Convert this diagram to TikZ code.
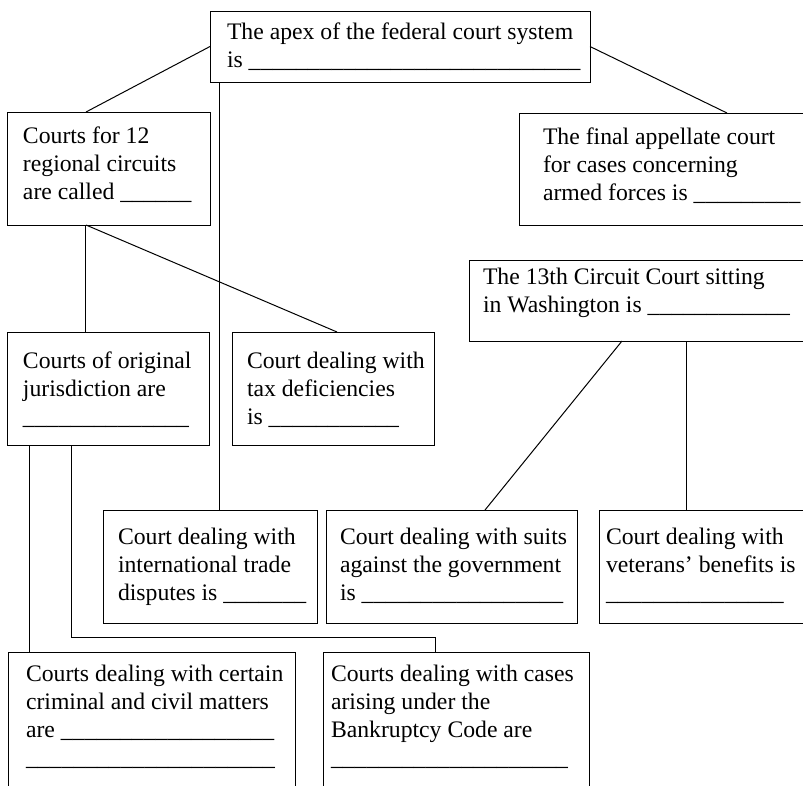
\documentclass[tikz,border=0pt]{standalone}
\usepackage{fontspec}
\setmainfont{Liberation Serif}
\usetikzlibrary{calc}

% a run of n underscores for the answer blanks
\newcount\blankn
\newcommand\blanks[1]{\blankn=#1\relax\loop\_\advance\blankn by -1 \ifnum\blankn>0 \repeat}

\tikzset{
  box/.style={draw=black, line width=1pt, inner sep=0pt, outer sep=0pt,
              anchor=north west, rectangle},
  % text blocks are placed by the baseline of their last line
  txt/.style={anchor=base west, align=left, inner sep=0pt, outer sep=0pt,
              font=\fontsize{23.7}{28}\selectfont},
  link/.style={draw=black, line width=1pt},
}

\begin{document}
\begin{tikzpicture}[x=1pt, y=-1pt]
\useasboundingbox (0,0) rectangle (803,785);
\fill[white] (0,0) rectangle (803,785);
\clip (0,0) rectangle (803,785);

% boxes
\node[box, minimum width=380pt, minimum height=71pt]  (apex)  at (210,11)  {};
\node[box, minimum width=203pt, minimum height=113pt] (circ)  at (7,112)   {};
\node[box, minimum width=320pt, minimum height=112pt] (armed) at (519,113) {};
\node[box, minimum width=202pt, minimum height=113pt] (orig)  at (7,332)   {};
\node[box, minimum width=202pt, minimum height=113pt] (tax)   at (232,332) {};
\node[box, minimum width=360pt, minimum height=81pt]  (c13)   at (469,260) {};
\node[box, minimum width=214pt, minimum height=113pt] (trade) at (103,510) {};
\node[box, minimum width=251pt, minimum height=113pt] (suits) at (326,510) {};
\node[box, minimum width=240pt, minimum height=113pt] (vet)   at (599,510) {};
\node[box, minimum width=287pt, minimum height=180pt] (crim)  at (8,652)   {};
\node[box, minimum width=266pt, minimum height=180pt] (bank)  at (323,652) {};

% texts
\node[txt] (tApex)  at (227,67)  {The apex of the federal court system\\is \blanks{28}};
\node[txt] (tCirc)  at (23,199)  {Courts for 12\\regional circuits\\are called \blanks{6}};
\node[txt] (tArmed) at (543,200) {The final appellate court\\for cases concerning\\armed forces is \blanks{9}};
\node[txt] (tOrig)  at (23,424)  {Courts of original\\jurisdiction are\\\blanks{14}};
\node[txt] (tTax)   at (247,424) {Court dealing with\\tax deficiencies\\is \blanks{11}};
\node[txt] (tC13)   at (483,312) {The 13th Circuit Court sitting\\in Washington is \blanks{12}};
\node[txt] (tTrade) at (118,600) {Court dealing with\\international trade\\disputes is \blanks{7}};
\node[txt] (tSuits) at (340,600) {Court dealing with suits\\against the government\\is \blanks{17}};
\node[txt] (tVet)   at (606,600) {Court dealing with\\veterans’ benefits is\\\blanks{15}};
\node[txt] (tCrim)  at (26,765)  {Courts dealing with certain\\criminal and civil matters\\are \blanks{18}\\\blanks{21}};
\node[txt] (tBank)  at (331,765) {Courts dealing with cases\\arising under the\\Bankruptcy Code are\\\blanks{20}};

% connectors
\draw[link] (apex.west) -- ($(circ.north west)+(79,0)$);
\draw[link] (apex.east) -- ($(armed.north west)+(208,0)$);
\draw[link] ($(apex.south west)+(9,0)$) -- ($(trade.north west)+(116,0)$);
\draw[link] ($(circ.south west)+(79,0)$) -- ($(tax.north west)+(105,0)$);
\draw[link] ($(circ.south west)+(78,0)$) -- ($(orig.north west)+(78,0)$);
\draw[link] ($(orig.south west)+(22,0)$) -- ($(crim.north west)+(21,0)$);
\coordinate (bend) at ($(orig.south west)+(64,192)$);
\draw[link] ($(orig.south west)+(64,0)$) -- (bend) -| ($(bank.north west)+(112,0)$);
\draw[link] ($(c13.south west)+(153,0)$) -- ($(suits.north west)+(159,0)$);
\draw[link] ($(c13.south west)+(217,0)$) -- ($(vet.north west)+(87,0)$);
\end{tikzpicture}
\end{document}
